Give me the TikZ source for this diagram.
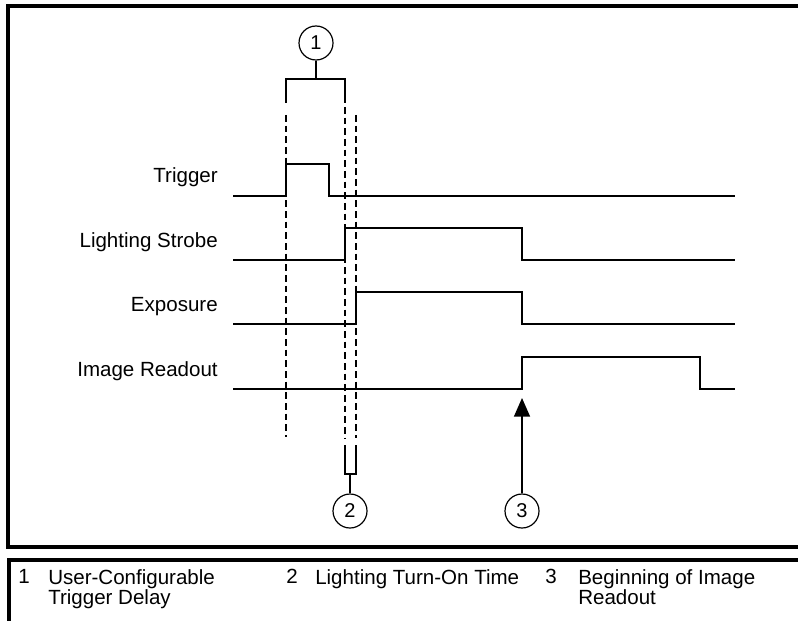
\documentclass[tikz,border=0pt]{standalone}
\usepackage{fontspec}
\setmainfont{Liberation Sans}
\usetikzlibrary{arrows.meta}
\tikzset{sigline/.style={line width=1.1pt}}
\tikzset{guideline/.style={line width=1.1pt,dash pattern=on 5pt off 3pt}}
\tikzset{frameline/.style={line width=2.3pt}}
\tikzset{callout/.style={draw,circle,line width=0.9pt,minimum size=25.5pt,
    inner sep=0pt,font=\fontsize{15}{18}\selectfont}}
\tikzset{siglabel/.style={anchor=base east,inner sep=0pt,
    font=\fontsize{15.4}{18}\selectfont}}
\tikzset{legendtext/.style={anchor=north west,inner sep=0pt,align=left,
    font=\fontsize{15.4}{15.5}\selectfont}}

\begin{document}
\begin{tikzpicture}[x=0.75pt,y=-0.75pt]
\useasboundingbox (0,0) rectangle (798,620);

\pgfmathsetmacro{\xstart}{233}
\pgfmathsetmacro{\xend}{735}

\pgfmathsetmacro{\xtrig}{286}
\pgfmathsetmacro{\xtoff}{329}
\pgfmathsetmacro{\xlamp}{345}
\pgfmathsetmacro{\xexpo}{356}
\pgfmathsetmacro{\xread}{522}
\pgfmathsetmacro{\xdone}{700}

\pgfmathsetmacro{\H}{32}
\pgfmathsetmacro{\yT}{196}
\pgfmathsetmacro{\yL}{260}
\pgfmathsetmacro{\yE}{324}
\pgfmathsetmacro{\yR}{389}

% 外枠
\draw[frameline] (805,6) -- (8,6) -- (8,547) -- (805,547);
\draw[frameline] (805,560) -- (9,560) -- (9,630);

% 信号名
\node[siglabel] (lT) at (218,{\yT-13}) {Trigger};
\node[siglabel] (lL) at (218,{\yL-13}) {Lighting Strobe};
\node[siglabel] (lE) at (218,{\yE-13}) {Exposure};
\node[siglabel] (lR) at (218,{\yR-13}) {Image Readout};

% 波形
\draw[sigline] (\xstart,\yT) -- (\xtrig,\yT) -- (\xtrig,{\yT-\H})
    -- (\xtoff,{\yT-\H}) -- (\xtoff,\yT) -- (\xend,\yT);
\draw[sigline] (\xstart,\yL) -- (\xlamp,\yL) -- (\xlamp,{\yL-\H})
    -- (\xread,{\yL-\H}) -- (\xread,\yL) -- (\xend,\yL);
\draw[sigline] (\xstart,\yE) -- (\xexpo,\yE) -- (\xexpo,{\yE-\H})
    -- (\xread,{\yE-\H}) -- (\xread,\yE) -- (\xend,\yE);
\draw[sigline] (\xstart,\yR) -- (\xread,\yR) -- (\xread,{\yR-\H})
    -- (\xdone,{\yR-\H}) -- (\xdone,\yR) -- (\xend,\yR);

% 補助線（破線）
\draw[guideline] (\xtrig,115) -- (\xtrig,437);
\draw[guideline] (\xlamp,107) -- (\xlamp,438);
\draw[guideline] (\xexpo,115) -- (\xexpo,438);

% 1
\node[callout] (c1) at (316,43) {1};
\coordinate (b1) at (316,79);
\draw[sigline] (c1) -- (b1);
\draw[sigline] (\xtrig,103) -- (\xtrig,79) -- (\xlamp,79) -- (\xlamp,103);

% 2
\node[callout] (c2) at (350,511) {2};
\coordinate (b2) at (350,474);
\draw[sigline] (\xlamp,445) -- (\xlamp,474) -- (\xexpo,474) -- (\xexpo,445);
\draw[sigline] (c2) -- (b2);

% 3
\node[callout] (c3) at (\xread,511) {3};
\coordinate (r3) at (\xread,398);
\draw[sigline,-{Triangle[length=14pt,width=12pt]}] (c3) -- (r3);

% 凡例
\node[legendtext] (n1) at (18,569) {1};
\node[legendtext] (t1) at (48,569) {User-Configurable\\Trigger Delay};
\node[legendtext] (n2) at (286,569) {2};
\node[legendtext] (t2) at (315,569) {Lighting Turn-On Time};
\node[legendtext] (n3) at (545,569) {3};
\node[legendtext] (t3) at (578,569) {Beginning of Image\\Readout};

\end{tikzpicture}
\end{document}
